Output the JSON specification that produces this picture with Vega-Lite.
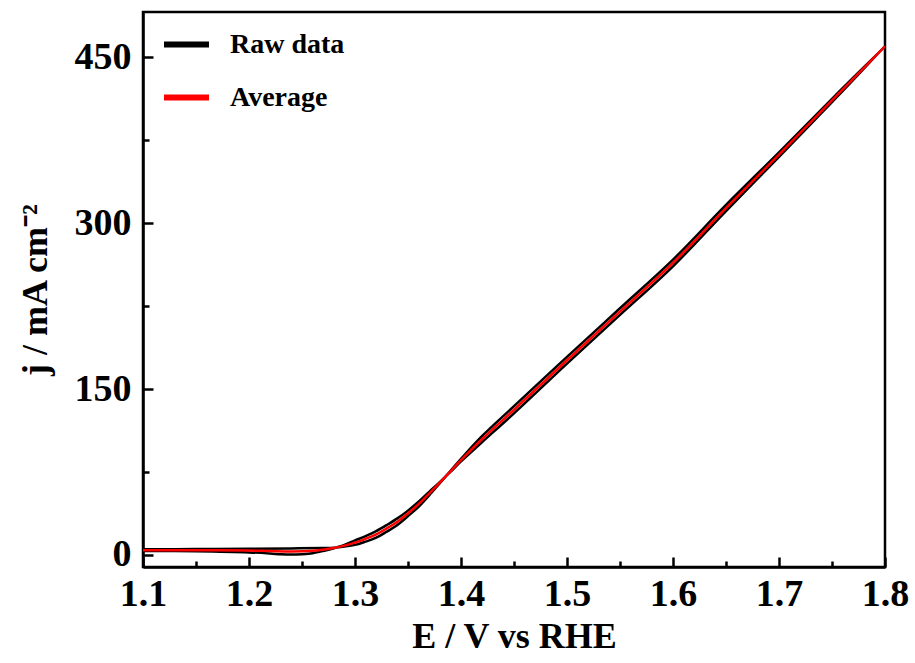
{
  "$schema": "https://vega.github.io/schema/vega-lite/v6.json",
  "width": 742,
  "height": 555,
  "autosize": {"type": "none"},
  "padding": {"left": 143, "top": 12, "right": 30, "bottom": 96},
  "background": "white",
  "config": {"view": {"stroke": "black", "strokeWidth": 2.5}, "font": "Liberation Serif"},
  "data": {"values": [
    {"s": "Raw data", "i": 1, "E": 1.10, "j": 5.0},
    {"s": "Raw data", "i": 2, "E": 1.15, "j": 5.2},
    {"s": "Raw data", "i": 3, "E": 1.20, "j": 5.5},
    {"s": "Raw data", "i": 4, "E": 1.24, "j": 5.8},
    {"s": "Raw data", "i": 5, "E": 1.27, "j": 6.2},
    {"s": "Raw data", "i": 6, "E": 1.28, "j": 6.5},
    {"s": "Raw data", "i": 7, "E": 1.29, "j": 7.5},
    {"s": "Raw data", "i": 8, "E": 1.30, "j": 9.0},
    {"s": "Raw data", "i": 9, "E": 1.31, "j": 12.0},
    {"s": "Raw data", "i": 10, "E": 1.32, "j": 15.5},
    {"s": "Raw data", "i": 11, "E": 1.33, "j": 21.0},
    {"s": "Raw data", "i": 12, "E": 1.34, "j": 27.0},
    {"s": "Raw data", "i": 13, "E": 1.35, "j": 35.0},
    {"s": "Raw data", "i": 14, "E": 1.36, "j": 43.5},
    {"s": "Raw data", "i": 15, "E": 1.37, "j": 53.8},
    {"s": "Raw data", "i": 16, "E": 1.38, "j": 64.8},
    {"s": "Raw data", "i": 17, "E": 1.39, "j": 75.8},
    {"s": "Raw data", "i": 18, "E": 1.40, "j": 86.8},
    {"s": "Raw data", "i": 19, "E": 1.42, "j": 107.5},
    {"s": "Raw data", "i": 20, "E": 1.45, "j": 134.5},
    {"s": "Raw data", "i": 21, "E": 1.50, "j": 179.0},
    {"s": "Raw data", "i": 22, "E": 1.55, "j": 223.0},
    {"s": "Raw data", "i": 23, "E": 1.60, "j": 267.0},
    {"s": "Raw data", "i": 24, "E": 1.65, "j": 316.5},
    {"s": "Raw data", "i": 25, "E": 1.70, "j": 364.0},
    {"s": "Raw data", "i": 26, "E": 1.75, "j": 412.5},
    {"s": "Raw data", "i": 27, "E": 1.80, "j": 460.0},
    {"s": "Raw data", "i": 28, "E": 1.75, "j": 409.5},
    {"s": "Raw data", "i": 29, "E": 1.70, "j": 360.0},
    {"s": "Raw data", "i": 30, "E": 1.65, "j": 311.0},
    {"s": "Raw data", "i": 31, "E": 1.60, "j": 261.0},
    {"s": "Raw data", "i": 32, "E": 1.55, "j": 217.0},
    {"s": "Raw data", "i": 33, "E": 1.50, "j": 173.0},
    {"s": "Raw data", "i": 34, "E": 1.45, "j": 128.0},
    {"s": "Raw data", "i": 35, "E": 1.42, "j": 102.0},
    {"s": "Raw data", "i": 36, "E": 1.40, "j": 84.5},
    {"s": "Raw data", "i": 37, "E": 1.39, "j": 75.0},
    {"s": "Raw data", "i": 38, "E": 1.38, "j": 65.8},
    {"s": "Raw data", "i": 39, "E": 1.37, "j": 57.0},
    {"s": "Raw data", "i": 40, "E": 1.36, "j": 48.0},
    {"s": "Raw data", "i": 41, "E": 1.35, "j": 40.0},
    {"s": "Raw data", "i": 42, "E": 1.34, "j": 33.0},
    {"s": "Raw data", "i": 43, "E": 1.33, "j": 27.0},
    {"s": "Raw data", "i": 44, "E": 1.32, "j": 21.5},
    {"s": "Raw data", "i": 45, "E": 1.31, "j": 17.0},
    {"s": "Raw data", "i": 46, "E": 1.30, "j": 13.0},
    {"s": "Raw data", "i": 47, "E": 1.29, "j": 9.0},
    {"s": "Raw data", "i": 48, "E": 1.28, "j": 6.0},
    {"s": "Raw data", "i": 49, "E": 1.27, "j": 3.5},
    {"s": "Raw data", "i": 50, "E": 1.26, "j": 1.5},
    {"s": "Raw data", "i": 51, "E": 1.25, "j": 0.6},
    {"s": "Raw data", "i": 52, "E": 1.24, "j": 0.2},
    {"s": "Raw data", "i": 53, "E": 1.23, "j": 0.5},
    {"s": "Raw data", "i": 54, "E": 1.22, "j": 1.2},
    {"s": "Raw data", "i": 55, "E": 1.20, "j": 2.2},
    {"s": "Raw data", "i": 56, "E": 1.15, "j": 3.2},
    {"s": "Raw data", "i": 57, "E": 1.10, "j": 3.5},
    {"s": "Average", "i": 101, "E": 1.10, "j": 4.2},
    {"s": "Average", "i": 102, "E": 1.15, "j": 4.2},
    {"s": "Average", "i": 103, "E": 1.20, "j": 3.9},
    {"s": "Average", "i": 104, "E": 1.22, "j": 3.4},
    {"s": "Average", "i": 105, "E": 1.24, "j": 3.0},
    {"s": "Average", "i": 106, "E": 1.26, "j": 3.6},
    {"s": "Average", "i": 107, "E": 1.27, "j": 4.7},
    {"s": "Average", "i": 108, "E": 1.28, "j": 6.2},
    {"s": "Average", "i": 109, "E": 1.29, "j": 8.3},
    {"s": "Average", "i": 110, "E": 1.30, "j": 11.0},
    {"s": "Average", "i": 111, "E": 1.31, "j": 14.5},
    {"s": "Average", "i": 112, "E": 1.32, "j": 18.5},
    {"s": "Average", "i": 113, "E": 1.33, "j": 24.0},
    {"s": "Average", "i": 114, "E": 1.34, "j": 30.0},
    {"s": "Average", "i": 115, "E": 1.35, "j": 37.5},
    {"s": "Average", "i": 116, "E": 1.36, "j": 45.8},
    {"s": "Average", "i": 117, "E": 1.37, "j": 55.4},
    {"s": "Average", "i": 118, "E": 1.38, "j": 65.3},
    {"s": "Average", "i": 119, "E": 1.39, "j": 75.4},
    {"s": "Average", "i": 120, "E": 1.40, "j": 85.6},
    {"s": "Average", "i": 121, "E": 1.42, "j": 104.8},
    {"s": "Average", "i": 122, "E": 1.45, "j": 131.2},
    {"s": "Average", "i": 123, "E": 1.50, "j": 176.0},
    {"s": "Average", "i": 124, "E": 1.55, "j": 220.0},
    {"s": "Average", "i": 125, "E": 1.60, "j": 264.0},
    {"s": "Average", "i": 126, "E": 1.65, "j": 313.5},
    {"s": "Average", "i": 127, "E": 1.70, "j": 362.0},
    {"s": "Average", "i": 128, "E": 1.75, "j": 411.0},
    {"s": "Average", "i": 129, "E": 1.80, "j": 460.0}
  ]},
  "layer": [
    {
      "mark": {"type": "line", "strokeWidth": 2.5, "interpolate": "catmull-rom", "clip": true},
      "encoding": {
        "x": {"field": "E", "type": "quantitative",
          "scale": {"domain": [1.1, 1.8], "nice": false, "zero": false},
          "axis": {"orient": "bottom", "values": [1.1, 1.2, 1.3, 1.4, 1.5, 1.6, 1.7, 1.8], "format": ".1f",
            "tickSize": -10, "tickWidth": 2.5, "tickColor": "black", "domainColor": "black", "domainWidth": 2.5,
            "labelFont": "Liberation Serif", "labelFontWeight": "bold", "labelFontSize": 38, "labelColor": "black",
            "labelPadding": 18, "labelFlush": false, "grid": false,
            "title": "E / V vs RHE", "titleFont": "Liberation Serif", "titleFontWeight": "bold", "titleFontSize": 36,
            "titleColor": "black", "titlePadding": 6}},
        "y": {"field": "j", "type": "quantitative",
          "scale": {"domain": [-11, 491], "nice": false, "zero": false},
          "axis": {"orient": "left", "values": [0, 150, 300, 450],
            "tickSize": -10, "tickWidth": 2.5, "tickColor": "black", "domainColor": "black", "domainWidth": 2.5,
            "labelFont": "Liberation Serif", "labelFontWeight": "bold", "labelFontSize": 38, "labelColor": "black",
            "labelPadding": 22, "labelFlush": false, "grid": false,
            "title": "j / mA cm⁻²", "titleFont": "Liberation Serif", "titleFontWeight": "bold", "titleFontSize": 36,
            "titleColor": "black", "titlePadding": 20}},
        "color": {"field": "s", "type": "nominal",
          "scale": {"domain": ["Raw data", "Average"], "range": ["#000000", "#ff0000"]},
          "legend": {"orient": "none", "legendX": 18, "legendY": 7, "title": null,
            "symbolType": "stroke", "symbolSize": 2025, "symbolStrokeWidth": 6,
            "labelFont": "Liberation Serif", "labelFontWeight": "bold", "labelFontSize": 28, "labelColor": "black",
            "labelOffset": 18, "rowPadding": 13}},
        "order": {"field": "i", "type": "quantitative"}
      }
    },
    {
      "mark": {"type": "line", "strokeOpacity": 0},
      "encoding": {
        "x": {"field": "E", "type": "quantitative",
          "axis": {"orient": "bottom", "values": [1.15, 1.25, 1.35, 1.45, 1.55, 1.65, 1.75],
            "tickSize": -6, "tickWidth": 2.5, "tickColor": "black", "labels": false, "domain": false, "grid": false, "title": null}},
        "y": {"field": "j", "type": "quantitative",
          "axis": {"orient": "left", "values": [75, 225, 375],
            "tickSize": -6, "tickWidth": 2.5, "tickColor": "black", "labels": false, "domain": false, "grid": false, "title": null}},
        "order": {"field": "i", "type": "quantitative"}
      }
    }
  ],
  "resolve": {"axis": {"x": "independent", "y": "independent"}}
}
